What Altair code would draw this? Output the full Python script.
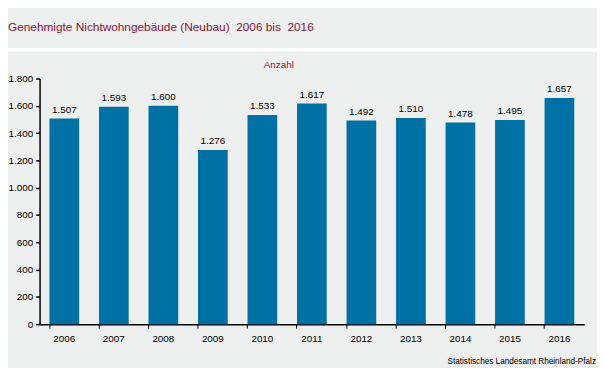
import altair as alt
import pandas as pd

years = ["2006", "2007", "2008", "2009", "2010", "2011", "2012", "2013", "2014", "2015", "2016"]
values = [1507, 1593, 1600, 1276, 1533, 1617, 1492, 1510, 1478, 1495, 1657]
y_ticks = [0, 200, 400, 600, 800, 1000, 1200, 1400, 1600, 1800]
title_text = "Genehmigte Nichtwohngebäude (Neubau)\u00a0 2006 bis\u00a0 2016"
unit_text = "Anzahl"
source_text = "Statistisches Landesamt Rheinland-Pfalz"

df = pd.DataFrame({"Jahr": years, "Anzahl": values})

BG = "#eeefef"
BAR = "#0071a4"
RED = "#8a1538"
FONT = "Liberation Sans"

W, H = 552, 249

x_axis = alt.Axis(title=None, bandPosition=0, labelAngle=0, labelFontSize=10,
                  labelFont=FONT, labelColor="#000", domainColor="#000",
                  domainWidth=1.5, tickColor="#000", tickSize=4, tickWidth=1,
                  labelPadding=6, labelOverlap=False)
y_axis = alt.Axis(values=y_ticks, grid=False, title=unit_text,
                  titleAngle=0, titleX=242, titleY=-14, titleAlign="center",
                  titleBaseline="middle", titleColor=RED, titleFont=FONT,
                  titleFontSize=10, titleFontWeight="normal",
                  labelExpr="replace(format(datum.value, ','), ',', '.')",
                  labelFontSize=10, labelFont=FONT, labelColor="#000",
                  labelOverlap=False, labelBound=False, labelFlush=False,
                  domainColor="#000", domainWidth=1.5, tickColor="#000",
                  tickSize=4, tickWidth=1.5, labelPadding=3)
x_scale = alt.Scale(paddingInner=0.4, paddingOuter=0.2)
y_scale = alt.Scale(domain=[0, 1800], nice=False)

base = alt.Chart(df)

bars = base.mark_bar(color=BAR).encode(
    x=alt.X("Jahr:N", sort=years, scale=x_scale, axis=x_axis),
    y=alt.Y("Anzahl:Q", scale=y_scale, axis=y_axis),
)

labels = base.mark_text(dy=-9, fontSize=10, font=FONT, color="#000").encode(
    x=alt.X("Jahr:N", sort=years, scale=x_scale, axis=x_axis),
    y=alt.Y("Anzahl:Q", scale=y_scale, axis=y_axis),
    text=alt.Text("lbl:N"),
).transform_calculate(lbl="replace(format(datum.Anzahl, ','), ',', '.')")

title_df = pd.DataFrame({"t": [title_text]})
title_mark = alt.Chart(title_df).mark_text(
    align="left", baseline="middle", fontSize=12, font=FONT, color=RED
).encode(x=alt.value(-32), y=alt.value(-52), text="t:N")

sep = alt.Chart(title_df).mark_rule(color="white", strokeWidth=4).encode(
    x=alt.value(-32), x2=alt.value(W + 13), y=alt.value(-29))

src_df = pd.DataFrame({"t": [source_text]})
src = alt.Chart(src_df).mark_text(
    align="right", baseline="middle", fontSize=8.3, font=FONT, color="#000"
).encode(x=alt.value(W + 12), y=alt.value(H + 38), text="t:N")

chart = alt.layer(sep, bars, labels, title_mark, src).properties(
    width=W, height=H,
    background=BG,
    padding={"left": 32, "top": 69, "right": 13, "bottom": 42},
    autosize=alt.AutoSizeParams(type="none"),
).configure_view(stroke=None).configure_axis(labelFont=FONT).configure_axisY(labelOverlap=False)

chart.save("out.html", embed_options={"renderer": "svg", "actions": False})
